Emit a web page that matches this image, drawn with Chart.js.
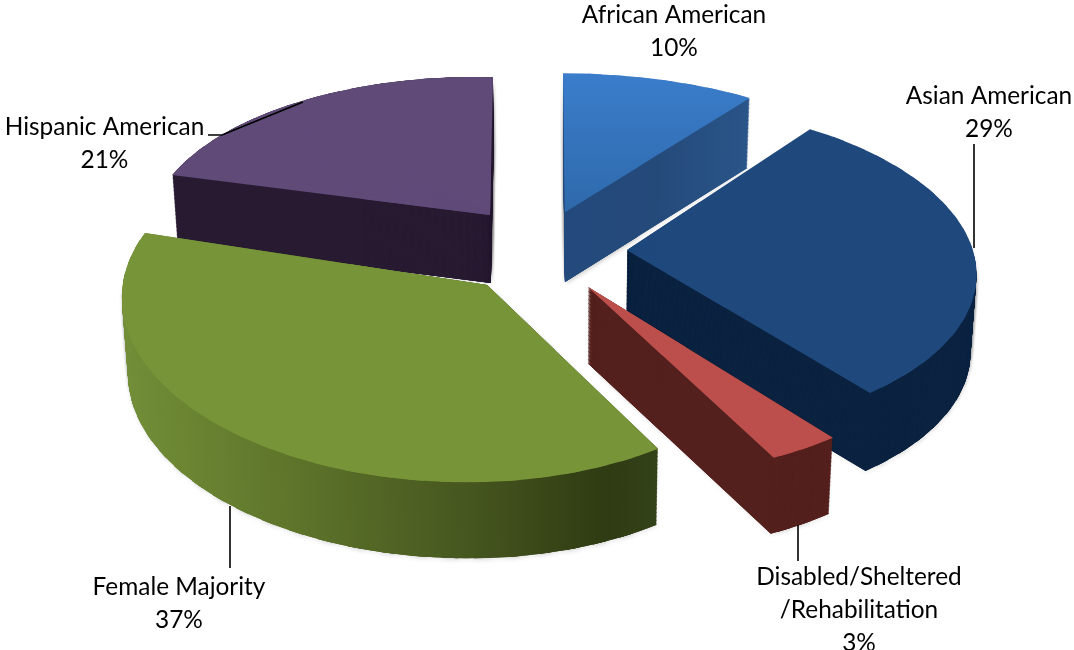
<!DOCTYPE html>
<html><head><meta charset="utf-8">
<style>html,body{margin:0;padding:0;background:#fff;overflow:hidden}canvas{display:block}</style>
<script src="https://cdn.jsdelivr.net/npm/chart.js@4"></script>
</head><body>
<div style="width:1074px;height:650px"><canvas id="c" width="1074" height="650"></canvas></div>
<script>
const categories = ['African American','Asian American','Disabled/Sheltered\n/Rehabilitation','Female Majority','Hispanic American'];
const shares = [10,29,3,37,21];
const topColors = ['#3272bb','#1f497d','#bc4f4b','#779538','#5f4a78'];

// Look of the tilted, exploded 3D pie: per-slice perspective and extrusion.
const sliceView = [
  {ax:565,ay:212,a:351,b:-2.7,c:2.2,d:154,p:.03,q:-.11,depth:70},
  {ax:627,ay:250,a:340,b:4.2,c:3.4,d:164,p:-.02,q:-.11,depth:78},
  {ax:588,ay:287,a:358,b:11,c:-5.3,d:170,p:0,q:-.11,depth:76},
  {ax:487,ay:285,a:327,b:5,c:6,d:175,p:.1,q:-.11,depth:76},
  {ax:490,ay:215,a:322,b:1.1,c:-3.3,d:153,p:.05,q:-.11,depth:68}
];
const topFills = [
  {axis:'y',from:73,to:212,stops:[[0,'#3b7dcb'],[1,'#2e69ab']]},
  '#1f497d','#bc4f4b','#779538','#5f4a78'
];
const sideFills = [
  {axis:'x',from:565,to:750,stops:[[0,'#24497c'],[.5,'#244a7a'],[1,'#2a5589']]},
  '#0b2340','#54201d',
  {axis:'x',from:122,to:657,stops:[[0,'#728e38'],[.3,'#5f762b'],[.65,'#46561f'],[.9,'#2f3b12'],[1,'#344219']]},
  '#281b32'
];
const drawOrder = [4,0,1,2,3];
const labelSpots = [[674,15],[989,96],[859,577],[179,587],[104.5,127]];
const leaderLines = [
  [[974,144],[974,248]],
  [[798,525],[798,561]],
  [[230,506],[230,568]],
  [[208,135],[222,135],[303,102]]
];
const deg=Math.PI/180, vanishX=560, shrink=0.014;

function project(s,t){
  const lx=Math.sin(t), ly=-Math.cos(t), w=1+s.p*lx+s.q*ly;
  return [(s.a*lx+s.c*ly)/w,(s.b*lx+s.d*ly)/w];
}
function paint(ctx,fill,g,base,cx,cy){
  if(typeof fill==='string') return fill;
  const m=g[0]*g[0]+g[1]*g[1];
  const k0=(fill.from-base)/m, k1=(fill.to-base)/m;
  const gr=ctx.createLinearGradient(cx+g[0]*k0,cy+g[1]*k0,cx+g[0]*k1,cy+g[1]*k1);
  fill.stops.forEach(st=>gr.addColorStop(st[0],st[1]));
  return gr;
}
function piece(ctx,arc,s,fill,dy,t1,t2,v1,v2,from,to){
  const r=arc.outerRadius, cx=arc.x, cy=arc.y;
  const u1=[Math.sin(t1),-Math.cos(t1)], u2=[Math.sin(t2),-Math.cos(t2)];
  const det=u1[0]*u2[1]-u2[0]*u1[1];
  const a=(v1[0]*u2[1]-v2[0]*u1[1])/det, c=(u1[0]*v2[0]-u2[0]*v1[0])/det;
  const b=(v1[1]*u2[1]-v2[1]*u1[1])/det, d=(u1[0]*v2[1]-u2[0]*v1[1])/det;
  const g=(fill.axis==='y')?[b/r,d/r]:[a/r,c/r];
  const base=(fill.axis==='y')?s.ay+dy:s.ax;
  const el=Object.create(arc);
  el.startAngle=from-Math.PI/2;
  el.endAngle=to-Math.PI/2;
  el.circumference=to-from;
  el.options=Object.assign({},arc.options,{backgroundColor:paint(ctx,fill,g,base,cx,cy),borderWidth:0});
  const k=1-shrink*dy/76;
  ctx.save();
  ctx.translate(vanishX,0); ctx.scale(k,1); ctx.translate(-vanishX,0);
  ctx.translate(s.ax,s.ay+dy);
  ctx.transform(a/r,b/r,c/r,d/r,0,0);
  ctx.translate(-cx,-cy);
  el.draw(ctx);
  ctx.restore();
}
function drawSlice(ctx,arc,s,fill,dy){
  const start=arc.startAngle+Math.PI/2, end=arc.endAngle+Math.PI/2;
  // inner underlay hides hairlines where the narrow sectors meet near the tip
  const f=0.4, e1=project(s,start), e2=project(s,end);
  piece(ctx,arc,s,fill,dy,start,end,[e1[0]*f,e1[1]*f],[e2[0]*f,e2[1]*f],start,end);
  const n=Math.max(1,Math.ceil((end-start)/(5*deg)));
  const lap=2.5*deg;
  for(let i=0;i<n;i++){
    const t1=start+(end-start)*i/n, t2=start+(end-start)*(i+1)/n;
    piece(ctx,arc,s,fill,dy,t1,t2,project(s,t1),project(s,t2),t1,i<n-1?t2+lap:t2);
  }
}
const pie3d={
  id:'pie3d',
  beforeDatasetsDraw(chart){
    const ctx=chart.ctx, arcs=chart.getDatasetMeta(0).data;
    drawOrder.forEach(i=>{
      const s=sliceView[i], arc=arcs[i];
      ctx.save();
      ctx.shadowColor='rgba(0,0,0,0.07)'; ctx.shadowBlur=4; ctx.shadowOffsetX=1; ctx.shadowOffsetY=2;
      for(let dy=s.depth;dy>=0;dy-=4) drawSlice(ctx,arc,s,sideFills[i],dy);
      ctx.restore();
      for(let dy=s.depth;dy>=1;dy--) drawSlice(ctx,arc,s,sideFills[i],dy);
      drawSlice(ctx,arc,s,topFills[i],0);
    });
    return false;
  },
  afterDraw(chart){
    const ctx=chart.ctx;
    ctx.save();
    ctx.strokeStyle='#000'; ctx.lineWidth=1.6;
    leaderLines.forEach(l=>{
      ctx.beginPath();
      l.forEach((p,k)=>k?ctx.lineTo(p[0],p[1]):ctx.moveTo(p[0],p[1]));
      ctx.stroke();
    });
    ctx.fillStyle='#000'; ctx.font='24.4px Lato'; ctx.textAlign='center'; ctx.textBaseline='middle';
    categories.forEach((name,i)=>{
      const lines=name.split('\n').concat([shares[i]+'%']);
      lines.forEach((t,k)=>ctx.fillText(t,labelSpots[i][0],labelSpots[i][1]+k*33));
    });
    ctx.restore();
  }
};
new Chart(document.getElementById('c'),{
  type:'pie',
  data:{labels:categories,datasets:[{data:shares,backgroundColor:topColors,borderWidth:0}]},
  options:{responsive:false,animation:false,
    plugins:{legend:{display:false},tooltip:{enabled:false}}},
  plugins:[pie3d]
});
</script>
</body></html>
